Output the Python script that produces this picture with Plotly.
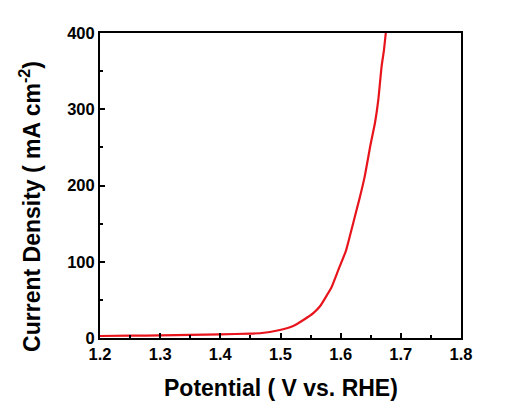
import plotly.graph_objects as go

# LSV polarization curve (OER), current density vs potential
potential = [1.200, 1.250, 1.300, 1.350, 1.400, 1.450, 1.466, 1.499, 1.521,
             1.538, 1.555, 1.566, 1.577, 1.585, 1.596, 1.609, 1.618, 1.632,
             1.640, 1.650, 1.657, 1.6625, 1.668, 1.672, 1.675]
current = [2.6, 3.0, 3.4, 4.0, 4.8, 5.8, 6.2, 10.5, 15.7,
           23.6, 33, 42, 56, 67, 89, 115, 142, 185,
           212, 255, 282, 312, 356, 378, 400]

x_ticks = [1.2, 1.3, 1.4, 1.5, 1.6, 1.7, 1.8]
y_ticks = [0, 100, 200, 300, 400]

font_family = "Liberation Sans, Arial, sans-serif"

fig = go.Figure()
fig.add_trace(go.Scatter(
    x=potential, y=current, mode="lines",
    line=dict(color="#e8141c", width=2.2, shape="spline", smoothing=0.5),
    showlegend=False,
))

axis_common = dict(
    showline=True, linecolor="black", linewidth=2, mirror=True,
    ticks="inside", ticklen=5, tickwidth=1.5, tickcolor="black",
    showgrid=False, zeroline=False,
    tickfont=dict(family=font_family, size=16.5, color="black", weight="bold"),
)

fig.update_xaxes(
    range=[1.2, 1.8], tickvals=x_ticks, ticktext=[f"{v:.1f}" for v in x_ticks],
    minor=dict(ticks="inside", ticklen=3, tickwidth=1.5, tickcolor="black", dtick=0.05, tick0=1.2),
    **axis_common,
)
fig.update_yaxes(
    range=[0, 400], tickvals=y_ticks,
    minor=dict(ticks="inside", ticklen=3, tickwidth=1.5, tickcolor="black", dtick=50, tick0=0),
    **axis_common,
)

# Axis titles placed as annotations
fig.add_annotation(
    text="<b>Potential ( V vs. RHE)</b>", xref="paper", yref="paper",
    x=0.5, y=-0.164, xanchor="center", yanchor="middle", showarrow=False,
    font=dict(family=font_family, size=23, color="black"),
)
fig.add_annotation(
    text="<b>Current Density ( mA cm<sup>-2</sup>)</b>", xref="paper", yref="paper",
    x=-0.194, y=0.433, xanchor="center", yanchor="middle", textangle=-90, showarrow=False,
    font=dict(family=font_family, size=23, color="black"),
)

fig.update_layout(
    width=515, height=418,
    margin=dict(l=100, r=54, t=33, b=80),
    paper_bgcolor="white", plot_bgcolor="white",
)

fig.write_html("out.html")
